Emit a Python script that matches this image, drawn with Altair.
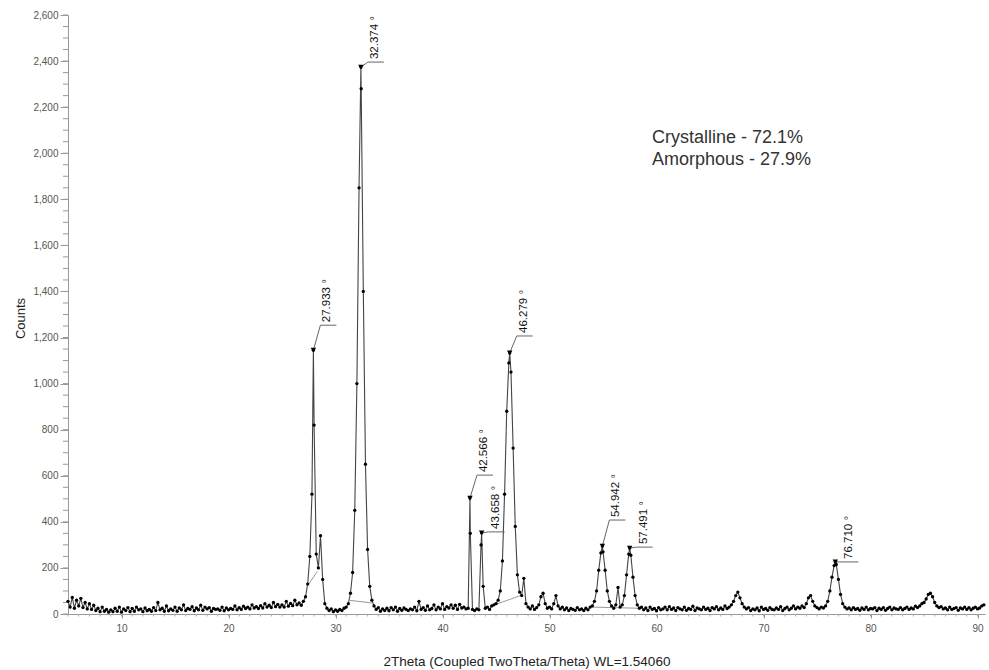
import altair as alt
import pandas as pd

# ---------------- data ----------------
start_2theta = 5.0
step_2theta = 0.2
counts = [
    # 5.0 - 6.8
    55, 30, 72, 25, 60, 35, 68, 28, 50, 22,
    # 7.0
    45, 20, 38, 15, 25, 10, 30, 12, 20, 8,
    # 9.0
    18, 10, 25, 12, 30, 8, 22, 15, 28, 10,
    # 11.0
    24, 12, 30, 18, 22, 10, 26, 14, 20, 12,
    # 13.0
    28, 15, 50, 18, 25, 12, 35, 14, 22, 16,
    # 15.0
    30, 12, 26, 18, 40, 15, 24, 20, 32, 14,
    # 17.0
    26, 18, 38, 16, 30, 22, 28, 12, 24, 20,
    # 19.0
    22, 16, 30, 14, 26, 18, 24, 20, 35, 18,
    # 21.0
    28, 20, 34, 24, 30, 22, 40, 26, 32, 24,
    # 23.0
    36, 26, 45, 30, 38, 28, 50, 32, 42, 30,
    # 25.0
    40, 30, 55, 34, 46, 36, 60, 40, 48, 38,
    # 27.0
    55, 75, 130, 250, 520, 820, 260, 200, 340, 150,
    # 29.0
    45, 25, 15, 22, 10, 18, 12, 20, 15, 25,
    # 31.0
    30, 45, 90, 180, 450, 1000, 1850, 2280, 1400, 650,
    # 33.0
    280, 120, 60, 35, 20, 28, 12, 22, 15, 25,
    # 35.0
    14, 28, 18, 30, 12, 24, 16, 26, 20, 15,
    # 37.0
    22, 18, 30, 14, 55, 20, 28, 16, 35, 18,
    # 39.0
    24, 40, 18, 30, 22, 45, 20, 32, 26, 40,
    # 41.0
    25, 38, 20, 42, 26, 30, 22, 25, 350, 20,
    # 43.0
    15, 22, 18, 300, 120, 25, 30, 20, 35, 40,
    # 45.0
    45, 60, 100, 230, 520, 880, 1090, 1050, 720, 380,
    # 47.0
    170, 95, 80, 155, 45, 30, 22, 35, 20, 28,
    # 49.0
    40, 75, 90, 45, 25, 30, 22, 45, 80, 35,
    # 51.0
    22, 30, 18, 26, 15, 24, 20, 16, 28, 18,
    # 53.0
    22, 15, 25, 18, 30, 35, 55, 100, 190, 265,
    # 55.0
    270, 190, 100, 55, 35, 25, 40, 115, 30, 40,
    # 57.0
    80, 170, 260, 255, 160, 80, 40, 25, 30, 18,
    # 59.0
    26, 15, 30, 20, 24, 14, 28, 18, 22, 30,
    # 61.0
    18, 32, 20, 26, 15, 28, 22, 18, 30, 16,
    # 63.0
    24, 20, 34, 15, 26, 22, 18, 30, 20, 25,
    # 65.0
    15, 28, 22, 32, 18, 26, 20, 35, 24, 30,
    # 67.0
    40, 55, 80, 95, 70, 45, 30, 22, 28, 15,
    # 69.0
    22, 18, 26, 14, 30, 20, 24, 16, 28, 20,
    # 71.0
    18, 26, 20, 32, 15, 24, 30, 18, 25, 35,
    # 73.0
    22, 30, 25, 35, 28, 45, 70, 80, 55, 35,
    # 75.0
    28, 22, 30, 26, 35, 55, 100, 160, 210, 215,
    # 77.0
    150, 85, 45, 30, 22, 26, 18, 28, 20, 24,
    # 79.0
    16, 26, 20, 30, 18, 24, 22, 28, 15, 25,
    # 81.0
    20, 28, 16, 24, 30, 18, 26, 22, 20, 28,
    # 83.0
    18, 24, 30, 20, 26, 22, 34, 28, 35, 45,
    # 85.0
    50, 65, 85, 90, 75, 50, 35, 28, 32, 22,
    # 87.0
    26, 18, 30, 20, 24, 28, 16, 26, 22, 30,
    # 89.0 - 90.6
    20, 28, 18, 25, 30, 22, 26, 35, 40,
]

peak_2theta = [27.933, 32.374, 42.566, 43.658, 46.279, 54.942, 57.491, 76.710]
peak_counts = [1145, 2374, 503, 352, 1133, 295, 286, 226]
peak_labels = ["27.933 °", "32.374 °", "42.566 °", "43.658 °",
               "46.279 °", "54.942 °", "57.491 °", "76.710 °"]

amorph_segment = [1, 1, 2, 2, 3, 3, 4, 4]
amorph_2theta = [27.35, 28.3, 31.2, 33.4, 44.9, 47.4, 54.0, 58.3]
amorph_counts = [120, 185, 60, 48, 40, 82, 30, 25]

annotation_lines = ["Crystalline - 72.1%", "Amorphous - 27.9%"]

x_tick_values = list(range(10, 91, 10))
y_tick_values = list(range(0, 2601, 200))
x_minor_values = list(range(5, 91))
y_minor_values = list(range(0, 2601, 50))

# ---------------- layout ----------------
X_MIN, X_MAX = 5.0, 90.7
Y_MIN, Y_MAX = 0, 2600
W, H = 917, 599
PX_PER_DEG = W / (X_MAX - X_MIN)
PX_PER_COUNT = H / (Y_MAX - Y_MIN)
label_lift_px = [25, 5, 23, 1, 17, 26, 1, 0]
FONT = "Liberation Sans"

two_theta = [round(start_2theta + step_2theta * i, 3) for i in range(len(counts))]
line_df = pd.DataFrame({
    "two_theta": two_theta + peak_2theta,
    "counts": counts + peak_counts,
}).sort_values("two_theta").reset_index(drop=True)

pk = pd.DataFrame({"two_theta": peak_2theta, "counts": peak_counts,
                   "label": peak_labels, "lift": label_lift_px})
pk["ex"] = pk["two_theta"] + 7 / PX_PER_DEG
pk["ey"] = pk["counts"] + pk["lift"] / PX_PER_COUNT
pk["endx"] = pk["ex"] + 16 / PX_PER_DEG

am = pd.DataFrame({"seg": amorph_segment, "two_theta": amorph_2theta,
                   "counts": amorph_counts})

xscale = alt.Scale(domain=[X_MIN, X_MAX], nice=False, zero=False)
yscale = alt.Scale(domain=[Y_MIN, Y_MAX], nice=False)

xaxis = alt.Axis(values=x_tick_values, title="2Theta (Coupled TwoTheta/Theta) WL=1.54060",
                 labelFontSize=10, labelColor="#555", labelFont=FONT,
                 tickSize=4, tickColor="#999", domainColor="#999",
                 labelPadding=5, titleFontSize=13.5, titleFontWeight="normal",
                 titleColor="#222", titleFont=FONT, titleY=51,
                 titleBaseline="alphabetic", grid=False)
yaxis = alt.Axis(values=y_tick_values, format=",d", title="Counts",
                 labelFontSize=10, labelColor="#555", labelFont=FONT,
                 tickSize=8, tickColor="#999", domainColor="#999",
                 labelPadding=2, titleFontSize=13, titleFontWeight="normal",
                 titleColor="#222", titleFont=FONT, titleAngle=270,
                 titleX=-44, titleY=303, titleAlign="center",
                 titleBaseline="alphabetic", grid=False)


def X(f):
    return alt.X(f, type="quantitative", scale=xscale, axis=xaxis)


def Y(f):
    return alt.Y(f, type="quantitative", scale=yscale, axis=yaxis)


data_line = alt.Chart(line_df).mark_line(color="#444", strokeWidth=1.1).encode(
    x=X("two_theta"), y=Y("counts"))
data_pts = alt.Chart(line_df).mark_circle(size=11, color="#000", opacity=1).encode(
    x=X("two_theta"), y=Y("counts"))

amorph = alt.Chart(am).mark_line(color="#999", strokeWidth=1).encode(
    x=X("two_theta"), y=Y("counts"), detail="seg:N")

leader1 = alt.Chart(pk).mark_rule(color="#666", strokeWidth=1).encode(
    x=X("two_theta"), y=Y("counts"), x2="ex", y2="ey")
leader2 = alt.Chart(pk).mark_rule(color="#666", strokeWidth=1).encode(
    x=X("ex"), x2="endx", y=Y("ey"))
markers = alt.Chart(pk).mark_point(shape="triangle-down", filled=True,
                                    color="#000", size=30, opacity=1).encode(
    x=X("two_theta"), y=Y("counts"))
labels = alt.Chart(pk).mark_text(angle=270, align="left", baseline="middle",
                                 dx=3, dy=7, fontSize=11.5, font=FONT,
                                 color="#111").encode(
    x=X("ex"), y=Y("ey"), text="label:N")

annot = alt.Chart(pd.DataFrame({"k": [0]})).mark_text(
    text=annotation_lines, align="left", baseline="alphabetic",
    fontSize=18, lineHeight=22, font=FONT, color="#333").encode(
    x=alt.value(584), y=alt.value(128))

x_minor = alt.Chart(pd.DataFrame({"v": x_minor_values})).mark_rule(
    color="#aaa", strokeWidth=1).encode(
    x=X("v"), y=alt.value(H), y2=alt.value(H + 2.5))
y_minor = alt.Chart(pd.DataFrame({"v": y_minor_values})).mark_rule(
    color="#999", strokeWidth=1).encode(
    y=Y("v"), x=alt.value(-5), x2=alt.value(0))

chart = alt.layer(
    data_line, x_minor, y_minor, amorph, data_pts, leader1, leader2,
    markers, labels, annot
).properties(
    width=W, height=H,
    padding={"left": 68, "top": 15, "right": 4, "bottom": 56},
    autosize=alt.AutoSizeParams(type="none"),
    background="white",
).configure_view(stroke=None)

chart.save("out.html", embed_options={"renderer": "svg", "actions": False})
